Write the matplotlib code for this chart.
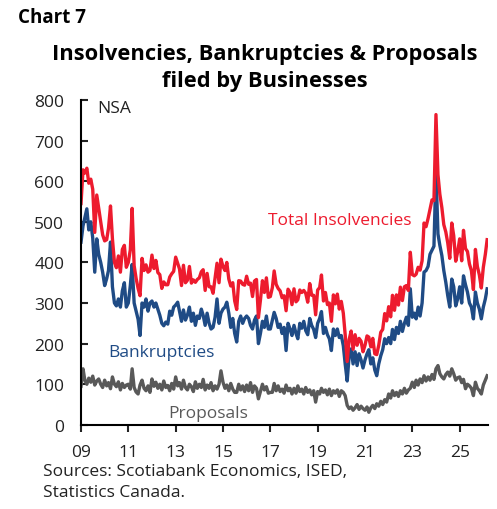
import numpy as np
import pandas as pd
import matplotlib.pyplot as plt
import matplotlib.dates as mdates

plt.rcParams['font.family'] = ['Open Sans', 'DejaVu Sans']

# monthly filings by businesses, Jan 2009 onward (not seasonally adjusted)
bankruptcies = [
    450, 490, 510, 532, 480, 500, 460, 376, 458, 420, 400, 376,  # 2009
    343, 360, 380, 450, 340, 300, 293, 310, 290, 330, 350, 290,  # 2010
    300, 343, 395, 300, 280, 260, 220, 300, 290, 310, 280, 300,  # 2011
    305, 290, 300, 285, 270, 250, 244, 253, 248, 280, 270, 290,  # 2012
    295, 302, 280, 255, 283, 258, 270, 290, 255, 275, 245, 268,  # 2013
    262, 285, 270, 245, 275, 250, 236, 240, 265, 310, 250, 275,  # 2014
    285, 290, 302, 275, 240, 262, 225, 204, 255, 268, 250, 262,  # 2015
    268, 262, 245, 236, 258, 268, 200, 225, 255, 240, 268, 236,  # 2016
    236, 258, 277, 262, 240, 248, 225, 240, 183, 250, 236, 220,  # 2017
    245, 225, 212, 250, 238, 255, 232, 222, 262, 245, 235, 215,  # 2018
    250, 262, 279, 225, 240, 222, 212, 183, 236, 220, 236, 215,  # 2019
    220, 195, 150, 108, 170, 187, 150, 180, 146, 175, 160, 140,  # 2020
    160, 175, 185, 150, 165, 135, 121, 150, 170, 185, 212, 200,  # 2021
    215, 200, 235, 210, 240, 225, 255, 230, 250, 265, 245, 335,  # 2022
    265, 275, 261, 290, 268, 300, 376, 380, 390, 420, 430, 440,  # 2023
    626, 470, 442, 417, 380, 351, 318, 290, 359, 340, 293, 310,  # 2024
    340, 300, 367, 345, 327, 300, 290, 261, 327, 300, 285, 261,  # 2025
    290, 310, 335,                                               # 2026
]
proposals = [
    95, 138, 110, 100, 115, 105, 120, 98, 108, 113, 100, 92,
    110, 96, 104, 89, 118, 100, 94, 106, 86, 102, 92, 98,
    100, 88, 138, 92, 81, 76, 98, 110, 90, 84, 96, 80,
    113, 95, 105, 90, 100, 86, 108, 92, 97, 84, 102, 88,
    118, 96, 104, 88, 110, 92, 86, 100, 94, 82, 106, 90,
    100, 92, 112, 86, 98, 90, 104, 84, 96, 88, 100, 133,
    105, 90, 98, 84, 102, 88, 80, 80, 100, 86, 96, 82,
    98, 84, 104, 80, 96, 90, 64, 82, 100, 86, 94, 78,
    80, 80, 102, 84, 96, 82, 88, 78, 98, 84, 90, 76,
    90, 78, 96, 82, 88, 76, 92, 80, 86, 74, 84, 56,
    82, 76, 90, 80, 86, 74, 88, 72, 84, 78, 86, 70,
    84, 80, 72, 48, 40, 44, 36, 42, 50, 38, 46, 40,
    36, 44, 31, 42, 48, 40, 52, 46, 58, 50, 62, 56,
    76, 66, 84, 72, 80, 70, 84, 76, 90, 78, 86, 90,
    105, 92, 110, 98, 113, 104, 121, 108, 118, 110, 124, 112,
    138, 146, 126, 118, 113, 124, 130, 120, 138, 126, 110, 116,
    118, 104, 112, 89, 100, 96, 90, 72, 105, 90, 84, 76,
    98, 110, 121,
]
total_insolvencies = [
    545, 628, 620, 632, 595, 605, 580, 474, 566, 533, 500, 468,
    453, 456, 484, 539, 458, 400, 387, 416, 376, 432, 442, 388,
    400, 431, 533, 392, 361, 336, 318, 410, 380, 394, 376, 380,
    418, 385, 405, 375, 370, 336, 352, 345, 345, 364, 372, 378,
    413, 398, 384, 343, 393, 350, 356, 390, 349, 357, 351, 358,
    362, 377, 382, 331, 373, 340, 340, 324, 361, 398, 350, 408,
    390, 380, 400, 359, 342, 350, 305, 284, 355, 354, 346, 344,
    366, 346, 349, 316, 354, 358, 264, 307, 355, 326, 362, 314,
    316, 338, 379, 346, 336, 330, 313, 318, 281, 334, 326, 296,
    335, 303, 308, 332, 326, 331, 324, 302, 348, 319, 319, 271,
    332, 338, 369, 305, 326, 296, 300, 255, 320, 298, 322, 285,
    304, 275, 222, 156, 210, 231, 186, 222, 196, 213, 206, 180,
    196, 219, 216, 192, 213, 175, 173, 196, 228, 235, 274, 256,
    291, 266, 319, 282, 320, 295, 339, 306, 340, 343, 331, 425,
    370, 367, 371, 388, 381, 404, 497, 488, 508, 530, 554, 552,
    764, 616, 568, 535, 493, 475, 448, 410, 497, 466, 403, 426,
    458, 404, 479, 434, 427, 396, 380, 333, 432, 390, 369, 337,
    388, 420, 456,
]
year_ticks = list(range(2009, 2026, 2))
y_ticks = list(range(0, 801, 100))

RED = '#ed1b2e'
BLUE = '#1f4b85'
GREY = '#595959'

dates = pd.date_range('2009-01-01', periods=len(total_insolvencies), freq='MS')

fig = plt.figure(figsize=(4.97, 5.10), dpi=100)
ax = fig.add_axes([0.163, 0.165, 0.819, 0.637])

ax.plot(dates, proposals, color=GREY, lw=2.4)
ax.plot(dates, bankruptcies, color=BLUE, lw=2.4)
ax.plot(dates, total_insolvencies, color=RED, lw=2.4)

ax.set_ylim(0, 800)
ax.set_yticks(y_ticks)
ax.set_xlim(pd.Timestamp('2009-01-01'), pd.Timestamp('2026-03-15'))
ax.set_xticks([pd.Timestamp(f'{y}-01-01') for y in year_ticks])
ax.xaxis.set_major_formatter(mdates.DateFormatter('%y'))

for side in ['top', 'right']:
    ax.spines[side].set_visible(False)
for side in ['left', 'bottom']:
    ax.spines[side].set_linewidth(1.5)
    ax.spines[side].set_color('black')
ax.tick_params(axis='y', direction='in', length=5, width=1.5, pad=12, labelsize=12.5, colors='#222222')
ax.tick_params(axis='x', direction='out', length=5, width=1.5, pad=9, labelsize=12.5, colors='#222222')

# series labels
ax.text(pd.Timestamp('2009-09-01'), 800, 'NSA', fontsize=12.5, color='#222222', va='top', ha='left')
ax.text(pd.Timestamp('2016-12-01'), 505, 'Total Insolvencies', fontsize=12.5, color=RED, va='center', ha='left')
ax.text(pd.Timestamp('2010-03-01'), 180, 'Bankruptcies', fontsize=12.5, color=BLUE, va='center', ha='left')
ax.text(pd.Timestamp('2012-09-01'), 30, 'Proposals', fontsize=12.5, color=GREY, va='center', ha='left')

fig.text(0.036, 0.955, 'Chart 7', fontsize=13.5, fontweight='bold', ha='left', va='baseline')
fig.text(0.533, 0.882, 'Insolvencies, Bankruptcies & Proposals', fontsize=15.75, fontweight='bold',
         ha='center', va='baseline')
fig.text(0.533, 0.829, 'filed by Businesses', fontsize=15.75, fontweight='bold', ha='center', va='baseline')

fig.text(0.087, 0.067, 'Sources: Scotiabank Economics, ISED,', fontsize=12.5, color='#222222', va='baseline')
fig.text(0.087, 0.026, 'Statistics Canada.', fontsize=12.5, color='#222222', va='baseline')

fig.savefig('out.png', dpi=100)
